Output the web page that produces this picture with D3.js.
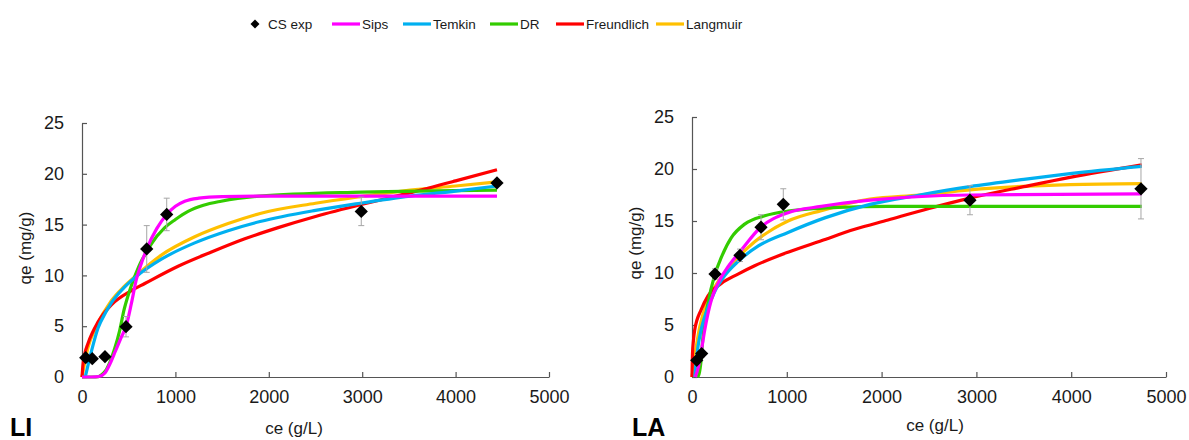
<!DOCTYPE html>
<html>
<head>
<meta charset="utf-8">
<script src="https://cdn.jsdelivr.net/npm/d3@7"></script>
<style>
  html, body { margin: 0; padding: 0; background: #fff; }
  svg { display: block; font-family: "Liberation Sans", Arial, sans-serif; }
</style>
</head>
<body>
<svg id="chart" width="1189" height="440"></svg>
<script>
// ---------------- data ----------------
const seriesNames = ["Sips", "Temkin", "DR", "Freundlich", "Langmuir"];
const seriesColors = ["#ff00ff", "#00b0f0", "#33cc00", "#ff0000", "#ffc000"];
const xTicks = [0, 1000, 2000, 3000, 4000, 5000];
const yTicks = [0, 5, 10, 15, 20, 25];
const panelLabels = ["LI", "LA"];

// experimental points (CS exp)
const liCe  = [40, 110, 246, 471, 693, 907, 2990, 4443];
const liQe  = [1.9, 1.8, 2.0, 4.95, 12.6, 16.0, 16.3, 19.1];
const liErr = [0.2, 0.2, 0.2, 1.0, 2.3, 1.6, 1.4, 0.3];
const laCe  = [50, 102, 243, 506, 728, 963, 2932, 4736];
const laQe  = [1.6, 2.25, 9.9, 11.7, 14.4, 16.6, 17.0, 18.1];
const laErr = [0.2, 0.3, 0.5, 0.6, 1.2, 1.5, 1.4, 2.9];

// model curves: [ce, qe]
const liSips = [[0,0],[100,0],[180,0.05],[246,0.4],[300,1.3],[360,2.6],[420,3.9],[475,5.1],[530,7.3],[582,9.6],[640,11.3],[693,12.6],[800,14.6],[907,16.0],[1000,16.8],[1100,17.3],[1250,17.6],[1500,17.75],[2000,17.8],[3000,17.8],[4443,17.8]];
const liTemkin = [[35,0],[60,1.0],[100,2.5],[171,4.8],[250,6.3],[314,7.3],[450,8.8],[582,9.9],[850,11.6],[1207,13.2],[1564,14.4],[1907,15.3],[2500,16.4],[2979,17.1],[3514,17.8],[4000,18.3],[4443,18.8]];
const liDR = [[0,0],[150,0],[250,0.6],[300,1.5],[350,2.8],[404,4.6],[450,6.6],[493,8.0],[529,9.0],[582,10.3],[640,11.5],[693,12.3],[743,13.1],[886,14.7],[1000,15.5],[1136,16.3],[1300,16.9],[1490,17.3],[1900,17.8],[3000,18.2],[4443,18.4]];
const liFreundlich = [[0,0],[10,1.2],[30,2.3],[64,3.3],[171,5.4],[314,7.1],[529,8.5],[672,9.2],[1029,10.9],[1386,12.3],[1743,13.6],[2100,14.7],[2500,15.8],[3000,17.0],[3500,18.1],[4000,19.3],[4443,20.4]];
const liLangmuir = [[0,0],[20,1.0],[64,2.9],[150,4.9],[314,7.5],[450,8.9],[582,10.0],[850,12.0],[1207,13.8],[1564,15.1],[1907,16.1],[2500,17.1],[2979,17.75],[3514,18.4],[4000,18.8],[4443,19.2]];

const laSips = [[35,0],[63,0.8],[100,2.6],[134,4.5],[204,7.4],[274,9.0],[380,10.6],[520,12.2],[714,14.3],[1013,15.8],[1364,16.4],[1878,17.0],[2932,17.5],[4744,17.6]];
const laTemkin = [[30,0],[40,1.1],[63,2.9],[100,4.7],[134,5.8],[239,8.2],[350,9.8],[485,11.1],[700,12.6],[1013,13.9],[1400,15.3],[1878,16.6],[2400,17.5],[2932,18.3],[3500,19.0],[3987,19.55],[4744,20.25]];
const laDR = [[60,0],[75,0.3],[95,1.5],[116,3.9],[169,7.1],[239,9.8],[309,11.5],[415,13.4],[556,14.7],[767,15.5],[1013,15.95],[1540,16.3],[2068,16.4],[4744,16.4]];
const laFreundlich = [[0,0],[5,2.2],[15,3.5],[28,4.5],[98,6.5],[169,7.8],[309,9.0],[485,9.9],[661,10.7],[1013,12.0],[1364,13.1],[1716,14.2],[2068,15.1],[2500,16.2],[2932,17.2],[3500,18.3],[3987,19.2],[4744,20.4]];
const laLangmuir = [[0,0],[28,1.9],[81,4.8],[169,7.4],[309,9.6],[485,11.5],[661,13.0],[1013,15.0],[1364,16.0],[1878,17.1],[2400,17.5],[2932,18.0],[3987,18.5],[4744,18.6]];

// ---------------- drawing ----------------
const svg = d3.select("#chart");
const FONT = '"Liberation Sans", Arial, sans-serif';

const panels = [
  { ce: liCe, qe: liQe, err: liErr,
    curves: [liSips, liTemkin, liDR, liFreundlich, liLangmuir],
    x0: 82, x1: 549, y0: 377, y1: 123,
    xTitleX: 294, xTitleY: 434, yTitleX: 31, yTitleY: 248, labelX: 10 },
  { ce: laCe, qe: laQe, err: laErr,
    curves: [laSips, laTemkin, laDR, laFreundlich, laLangmuir],
    x0: 692, x1: 1166, y0: 377, y1: 117,
    xTitleX: 935, xTitleY: 431, yTitleX: 641, yTitleY: 243, labelX: 632 }
];

const drawOrder = [4, 3, 2, 1, 0];

panels.forEach((p, pi) => {
  const x = d3.scaleLinear().domain([0, 5000]).range([p.x0, p.x1]);
  const y = d3.scaleLinear().domain([0, 25]).range([p.y0, p.y1]);
  const g = svg.append("g");

  // axes
  const xAxis = d3.axisBottom(x).tickValues(xTicks).tickFormat(d3.format("d"))
    .tickSizeInner(-5).tickSizeOuter(0).tickPadding(13);
  const yAxis = d3.axisLeft(y).tickValues(yTicks).tickFormat(d3.format("d"))
    .tickSizeInner(-5).tickSizeOuter(0).tickPadding(18);
  const gx = g.append("g").attr("transform", `translate(0,${p.y0})`).call(xAxis);
  const gy = g.append("g").attr("transform", `translate(${p.x0},0)`).call(yAxis);
  [gx, gy].forEach(ax => {
    ax.select(".domain").attr("stroke", "#555").attr("stroke-width", 1.2);
    ax.selectAll(".tick line").attr("stroke", "#555").attr("stroke-width", 1.2);
    ax.selectAll(".tick text").attr("fill", "#1a1a1a").style("font-family", FONT).style("font-size", "18px");
  });
  gx.selectAll(".tick text").attr("dy", "0.71em");

  // curves
  const line = d3.line().x(d => x(d[0])).y(d => y(d[1])).curve(d3.curveMonotoneX);
  drawOrder.forEach(si => {
    g.append("path")
      .datum(p.curves[si])
      .attr("d", line)
      .attr("fill", "none")
      .attr("stroke", seriesColors[si])
      .attr("stroke-width", 3.2)
      .attr("stroke-linejoin", "round")
      .attr("stroke-linecap", "butt");
  });

  // error bars
  const pts = p.ce.map((c, i) => ({ ce: c, qe: p.qe[i], err: p.err[i] }));
  const eb = g.append("g").attr("stroke", "#a6a6a6").attr("stroke-width", 1);
  pts.forEach(d => {
    const cx = x(d.ce), ty = y(d.qe + d.err), by = y(d.qe - d.err);
    eb.append("line").attr("x1", cx).attr("x2", cx).attr("y1", ty).attr("y2", by);
    eb.append("line").attr("x1", cx - 3).attr("x2", cx + 3).attr("y1", ty).attr("y2", ty);
    eb.append("line").attr("x1", cx - 3).attr("x2", cx + 3).attr("y1", by).attr("y2", by);
  });

  // markers
  const sym = d3.symbol().type(d3.symbolSquare).size(88);
  g.append("g").selectAll("path").data(pts).join("path")
    .attr("d", sym)
    .attr("transform", d => `translate(${x(d.ce)},${y(d.qe)}) rotate(45)`)
    .attr("fill", "#000");

  // axis titles
  g.append("text")
    .attr("x", p.xTitleX).attr("y", p.xTitleY)
    .attr("text-anchor", "middle")
    .style("font-family", FONT).style("font-size", "17px").attr("fill", "#1a1a1a")
    .text("ce (g/L)");
  g.append("text")
    .attr("transform", `translate(${p.yTitleX},${p.yTitleY}) rotate(-90)`)
    .attr("text-anchor", "middle")
    .style("font-family", FONT).style("font-size", "17px").attr("fill", "#1a1a1a")
    .text("qe (mg/g)");

  // panel label
  g.append("text")
    .attr("x", p.labelX).attr("y", 436)
    .style("font-family", FONT).style("font-size", "25px").style("font-weight", "bold")
    .attr("fill", "#000")
    .text(panelLabels[pi]);
});

// legend
const legY = 24;
const lg = svg.append("g");
lg.append("path")
  .attr("d", d3.symbol().type(d3.symbolSquare).size(40))
  .attr("transform", `translate(255,${legY}) rotate(45)`)
  .attr("fill", "#000");
lg.append("text").attr("x", 268).attr("y", legY + 5)
  .style("font-family", FONT).style("font-size", "13.5px").attr("fill", "#1a1a1a")
  .text("CS exp");
const legLineX = [332, 403, 490, 556, 656];
seriesNames.forEach((name, i) => {
  const lx = legLineX[i];
  lg.append("line").attr("x1", lx).attr("x2", lx + 28).attr("y1", legY).attr("y2", legY)
    .attr("stroke", seriesColors[i]).attr("stroke-width", 3.2);
  lg.append("text").attr("x", lx + 30).attr("y", legY + 5)
    .style("font-family", FONT).style("font-size", "13.5px").attr("fill", "#1a1a1a")
    .text(name);
});
</script>
</body>
</html>
